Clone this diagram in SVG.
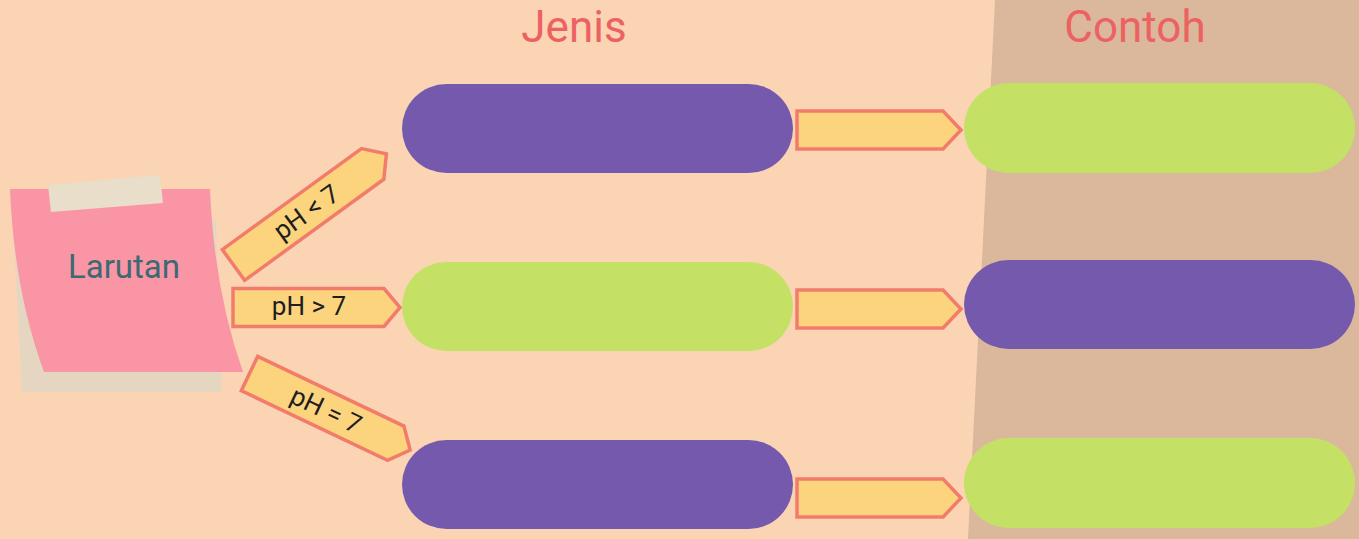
<svg xmlns="http://www.w3.org/2000/svg" width="1359" height="539" viewBox="0 0 1359 539">
<defs>
<style>
.title{font-family:Roboto,"Liberation Sans",sans-serif;font-size:44px;fill:#EC6262;text-anchor:middle}
.lbl{font-family:Roboto,"Liberation Sans",sans-serif;font-size:26px;fill:#1E1E1E;text-anchor:middle;dominant-baseline:central}
.arr{fill:#FDD47E;stroke:#F27C6C;stroke-width:3.5;stroke-linejoin:miter}
.purple{fill:#7459AD}
.green{fill:#C5E165}
</style>
</defs>
<rect width="1359" height="539" fill="#FBD4B4"/>
<polygon points="995,0 1359,0 1359,539 968,539" fill="#DBB89B"/>
<text class="title" x="574" y="42">Jenis</text>
<text class="title" x="1135" y="42">Contoh</text>

<g id="larutan">
<polygon points="14,240 216,220 222,392 22,392" fill="#E4D6C1"/>
<path d="M10,189 L210,189 Q214,290 243,372 L44,372 Q14,290 10,189 Z" fill="#F995A5"/>
<polygon points="48,185 160,175 163,203 51,212" fill="#E8DEC9"/>
<text x="124" y="278" font-family="Roboto,'Liberation Sans',sans-serif" font-size="33" fill="#3B6A72" text-anchor="middle">Larutan</text>
</g>

<g id="connectors">
<g id="c-lt7" transform="translate(233.5,265) rotate(-36)">
<polygon class="arr" points="0,-19 172,-19 189,0 172,19 0,19"/>
<text class="lbl" x="90" y="0">pH &lt; 7</text>
</g>
<g id="c-gt7" transform="translate(233,307.5)">
<polygon class="arr" points="0,-19 151,-19 167,0 151,19 0,19"/>
<text class="lbl" x="76" y="-2">pH &gt; 7</text>
</g>
<g id="c-eq7" transform="translate(249.5,373.5) rotate(25.5)">
<polygon class="arr" points="0,-19 162,-19 178,0 162,19 0,19"/>
<text class="lbl" x="85" y="0">pH = 7</text>
</g>
<polygon class="arr" points="797,111 943,111 961,130 943,149 797,149"/>
<polygon class="arr" points="797,290 943,290 961,309 943,328 797,328"/>
<polygon class="arr" points="797,479 943,479 961,498 943,517 797,517"/>
</g>

<g id="jenis1"><rect class="purple" x="402" y="84" width="391" height="89" rx="44.5"/></g>
<g id="jenis2"><rect class="green" x="402" y="262" width="391" height="89" rx="44.5"/></g>
<g id="jenis3"><rect class="purple" x="402" y="440" width="391" height="89" rx="44.5"/></g>
<g id="contoh1"><rect class="green" x="964" y="83" width="391" height="90" rx="45"/></g>
<g id="contoh2"><rect class="purple" x="964" y="260" width="391" height="89" rx="44.5"/></g>
<g id="contoh3"><rect class="green" x="964" y="438" width="391" height="90" rx="45"/></g>
</svg>
